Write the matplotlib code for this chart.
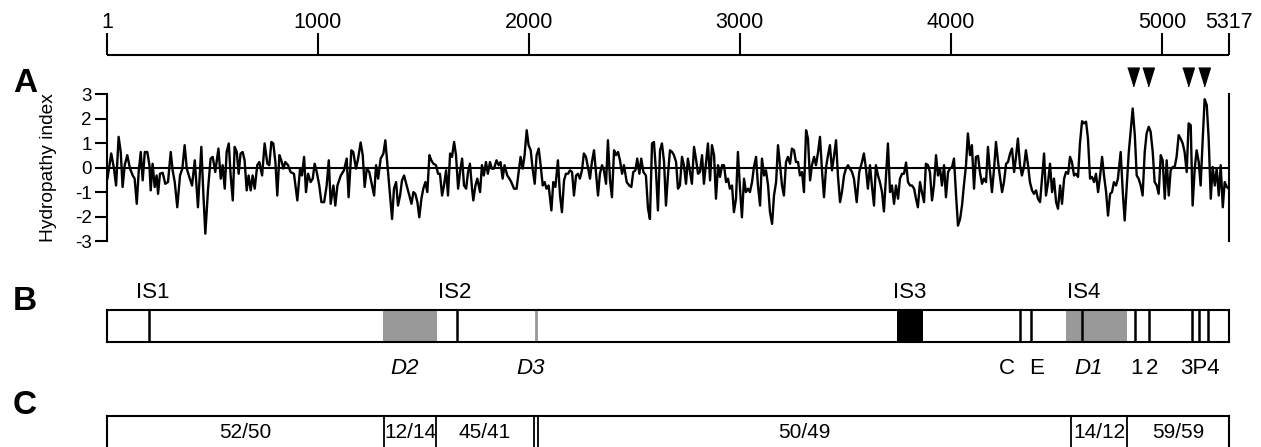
""" Hydropathy profile and domain map of a 5317-residue protein """
import numpy as np
import matplotlib
matplotlib.use("Agg")
from matplotlib import pyplot as plt

plt.rcParams['font.family'] = ['Liberation Sans', 'DejaVu Sans']
plt.rcParams['axes.unicode_minus'] = False

# ---- data ----
length = 5317
ruler_ticks = [1, 1000, 2000, 3000, 4000, 5000, 5317]

# hydropathy trace (residue, index) in three pieces
pos_1 = [3, 21, 34, 44, 56, 66, 75, 85, 97, 110, 123, 132, 142, 151, 161, 170, 180, 192, 202, 208,
         217, 227, 236, 243, 252, 265, 277, 290, 303, 312, 322, 334, 347, 358, 369, 379, 391, 404, 417, 432,
         448, 458, 467, 480, 492, 502, 514, 529, 540, 549, 559, 568, 578, 587, 597, 606, 616, 625, 634, 644,
         653, 663, 672, 682, 691, 701, 713, 723, 736, 748, 761, 770, 780, 789, 799, 808, 818, 827, 837, 846,
         859, 871, 887, 903, 916, 925, 935, 944, 954, 966, 976, 985, 995, 1007, 1017, 1030, 1042, 1052, 1061, 1074,
         1083, 1093, 1109, 1124, 1137, 1146, 1159, 1168, 1181, 1191, 1203, 1213, 1222, 1232, 1244, 1257, 1267, 1276, 1286, 1298,
         1311, 1320, 1330, 1339, 1352, 1361, 1371, 1380, 1390, 1399, 1409, 1421, 1434, 1444, 1453, 1462, 1472, 1481, 1491, 1500,
         1510, 1519, 1529, 1538, 1548, 1560, 1570, 1579, 1589, 1598, 1608, 1617, 1627, 1636, 1646, 1655, 1665, 1674, 1684, 1693,
         1703, 1712, 1721, 1731, 1737, 1747, 1756, 1769]
val_1 = [-0.45, 0.58, -0.04, -0.73, 1.26, 0.64, -0.79, 0.10, 0.51, -0.04, -0.32, -0.45, -1.48, -0.18, 0.64, -0.52, 0.64, 0.64, 0.10, -0.93,
         0.16, -0.79, -0.32, -1.07, -0.25, -0.21, -0.66, -0.59, 0.64, -0.11, -0.59, -1.62, -0.32, -0.04, 0.92, -0.04, -0.38, -0.73, 0.30, -1.62,
         0.85, -1.14, -2.70, -0.86, 0.37, 0.44, -0.18, 0.78, -0.45, 0.10, -0.86, 0.64, 0.99, -0.32, -1.34, 0.85, 0.64, -0.25, 0.58, 0.64,
         0.30, -0.93, -0.32, -0.93, -0.32, -0.86, 0.10, 0.23, -0.32, 0.99, 0.16, 0.10, 1.05, 0.99, 0.23, -1.14, 0.51, 0.30, -0.04, 0.23,
         0.10, -0.18, -0.25, -1.34, -0.04, -0.32, 0.44, -1.00, -0.25, -0.59, -0.45, 0.16, -0.18, -0.73, -1.41, -1.41, -0.73, 0.30, -1.48, -0.73,
         -1.55, -0.73, -0.32, -0.11, 0.37, -1.21, 0.71, 0.64, -0.04, 0.37, 1.03, 0.51, -0.79, -0.04, -0.18, -0.73, -1.14, 0.10, -0.45, 0.37,
         0.58, 1.12, 0.10, -0.86, -2.10, -0.86, -0.59, -1.55, -1.14, -0.52, -0.32, -0.73, -1.14, -1.48, -1.00, -1.07, -1.41, -2.03, -1.27, -0.86,
         -0.59, -1.00, 0.51, 0.30, 0.16, 0.10, -0.25, -0.25, -1.14, -0.73, -0.11, -1.14, 0.58, 0.44, 1.05, 0.51, -0.86, -0.18, 0.37, -0.73,
         -0.86, -0.18, 0.16, -0.86, -1.34, -0.73, -0.45, -1.00]

pos_2 = [1778, 1787, 1797, 1806, 1816, 1825, 1835, 1847, 1857, 1866, 1876, 1885, 1898, 1908, 1917, 1930, 1942, 1952, 1961, 1971,
         1980, 1990, 1999, 2009, 2018, 2028, 2037, 2047, 2056, 2066, 2075, 2084, 2094, 2107, 2116, 2126, 2138, 2148, 2157, 2167,
         2176, 2186, 2195, 2205, 2214, 2224, 2233, 2242, 2252, 2261, 2271, 2280, 2290, 2299, 2309, 2318, 2328, 2337, 2347, 2356,
         2366, 2375, 2385, 2394, 2404, 2413, 2423, 2432, 2442, 2451, 2464, 2476, 2486, 2495, 2505, 2514, 2524, 2533, 2543, 2555,
         2565, 2574, 2584, 2593, 2603, 2612, 2622, 2631, 2641, 2650, 2660, 2669, 2679, 2688, 2698, 2707, 2716, 2726, 2735, 2745,
         2754, 2764, 2773, 2783, 2792, 2802, 2811, 2821, 2830, 2840, 2849, 2859, 2868, 2878, 2887, 2897, 2906, 2916, 2925, 2935,
         2944, 2953, 2963, 2972, 2982, 2991, 3001, 3010, 3020, 3029, 3039, 3048, 3058, 3067, 3077, 3086, 3096, 3105, 3115, 3124,
         3134, 3143, 3153, 3162, 3172, 3181, 3190, 3200, 3209, 3219, 3228, 3238, 3247, 3257, 3266, 3276, 3285, 3295, 3304, 3314,
         3323, 3333, 3342, 3352, 3361, 3371, 3380, 3390, 3399, 3409, 3418, 3427, 3437, 3446, 3456, 3465, 3475, 3484, 3494, 3503,
         3513, 3522, 3532, 3541]
val_2 = [0.10, -0.32, 0.23, -0.25, 0.23, -0.04, -0.04, 0.30, 0.10, 0.23, -0.45, 0.10, -0.32, -0.45, -0.59, -0.86, -0.86, -0.18, 0.44, -0.04,
         0.51, 1.53, 0.92, 0.71, -0.04, -0.66, 0.51, 0.78, 0.10, -0.73, -0.59, -0.86, -0.73, -1.75, -0.59, -0.79, 0.30, -1.14, -1.82, -0.52,
         -0.25, -0.25, -0.11, -0.18, -1.14, -0.32, -0.25, -0.45, -0.11, 0.58, 0.44, 0.03, -0.45, 0.23, 0.71, -0.18, -1.14, -0.25, 0.10, -0.11,
         -0.66, 1.12, -0.52, -1.21, 0.71, 0.51, 0.64, 0.30, -0.25, 0.10, -0.59, -0.73, -0.79, -0.18, -0.11, 0.37, -0.25, 0.37, -0.18, -0.32,
         -1.68, -2.10, 0.99, 1.05, -0.18, -1.75, 0.71, 0.99, 0.23, -1.55, -0.25, 0.71, 0.64, 0.51, 0.23, -0.86, -0.73, 0.44, 0.10, -0.66,
         0.37, -0.18, -0.66, 0.85, 0.37, -0.25, -0.18, 0.51, -0.66, 0.23, 0.99, -0.52, 0.92, 0.51, -1.27, 0.10, -0.38, 0.10, 0.10, -0.59,
         -0.45, -0.86, -0.73, -1.82, -1.27, 0.64, -0.86, -2.03, -0.45, -1.00, -0.86, -1.00, -0.59, 0.03, 0.44, -0.73, -1.55, 0.37, -0.32, -0.11,
         -0.73, -1.82, -2.30, -1.14, -0.59, 0.92, 0.16, -0.73, -1.14, 0.23, 0.44, 0.16, 0.78, 0.71, 0.23, 0.23, -0.32, -0.18, -1.00, 1.53,
         1.19, -0.52, 0.10, 0.44, 0.10, 0.64, 1.26, -0.18, -1.21, 0.03, 0.51, 0.92, -0.11, 0.44, 1.12, -0.32, -1.41, -1.00, -0.32, -0.04,
         0.10, -0.04, -0.18, -0.45]

pos_3 = [3554, 3566, 3579, 3588, 3598, 3607, 3617, 3626, 3636, 3645, 3655, 3664, 3674, 3683, 3693, 3702, 3712, 3721, 3731, 3740,
         3750, 3759, 3769, 3778, 3788, 3797, 3807, 3816, 3826, 3835, 3844, 3854, 3863, 3873, 3882, 3892, 3901, 3911, 3920, 3930,
         3939, 3949, 3958, 3968, 3977, 3987, 3996, 4006, 4015, 4025, 4034, 4044, 4053, 4062, 4072, 4081, 4091, 4100, 4110, 4119,
         4129, 4138, 4148, 4157, 4167, 4176, 4186, 4195, 4205, 4214, 4224, 4233, 4243, 4252, 4262, 4271, 4281, 4290, 4300, 4309,
         4318, 4328, 4337, 4347, 4356, 4366, 4375, 4385, 4394, 4404, 4413, 4423, 4432, 4442, 4451, 4461, 4470, 4480, 4489, 4499,
         4508, 4518, 4527, 4537, 4546, 4556, 4565, 4574, 4584, 4593, 4603, 4612, 4622, 4631, 4641, 4650, 4660, 4669, 4679, 4688,
         4698, 4707, 4717, 4726, 4736, 4745, 4755, 4764, 4773, 4783, 4792, 4805, 4815, 4824, 4834, 4843, 4853, 4862, 4872, 4881,
         4890, 4900, 4909, 4919, 4928, 4938, 4947, 4957, 4966, 4976, 4985, 4995, 5004, 5014, 5023, 5033, 5042, 5052, 5061, 5070,
         5080, 5089, 5099, 5108, 5118, 5127, 5137, 5146, 5156, 5165, 5175, 5184, 5194, 5203, 5213, 5222, 5232, 5241, 5251, 5260,
         5270, 5279, 5289, 5298, 5308, 5317]
val_3 = [-1.41, -0.18, 0.23, 0.58, -0.04, -0.86, 0.10, -0.73, -1.55, 0.10, -0.32, -0.59, -1.00, -1.79, -0.32, 0.99, -1.00, -0.73, -1.48, -0.73,
         -1.27, -0.45, -0.25, -0.25, 0.21, -0.59, -0.73, -0.73, -0.86, -1.27, -1.62, -0.59, -1.00, -1.41, 0.16, 0.10, -0.18, -1.34, -0.73, 0.51,
         -0.32, -0.04, -0.73, 0.10, -1.21, -0.18, -0.04, 0.03, 0.37, -1.14, -2.37, -2.10, -1.55, -0.73, 0.10, 1.40, 0.51, 0.92, -0.86, 0.44,
         0.48, -0.18, -0.66, -0.45, -0.59, 0.85, -0.18, -1.00, -0.04, 1.05, 0.23, -0.38, -1.00, -0.59, 0.16, 0.23, 0.58, 0.78, -0.18, 0.44,
         1.19, 0.10, -0.32, 0.03, 0.71, 0.10, -0.59, -0.93, -1.07, -0.93, -1.27, -1.41, -0.45, 0.58, -1.14, -0.59, 0.16, -1.00, -0.45, -1.41,
         -1.68, -0.73, -1.48, -0.45, -0.18, -0.25, 0.44, 0.23, -0.32, -0.25, -0.38, 0.99, 1.90, 1.81, 1.88, 1.19, -0.45, -0.38, -0.59, -0.25,
         -1.00, -0.38, 0.44, -0.32, -1.00, -1.96, -1.07, -1.00, -0.59, -0.73, -0.45, 0.64, -1.00, -2.16, -0.73, 0.58, 1.53, 2.42, 1.33, -0.32,
         -0.45, -0.73, -1.14, 0.64, 1.40, 1.67, 1.47, 0.64, -0.59, -0.73, -1.07, 0.51, 0.30, -1.27, 0.30, -1.14, -0.11, 0.03, 0.03, 0.44,
         1.33, 1.19, 0.99, 0.64, -0.18, 1.81, 1.74, -1.55, -0.04, 0.71, 0.23, -0.73, 1.19, 2.80, 2.56, 1.19, -1.27, 0.03, -0.73, -0.04,
         -1.14, 0.10, -1.62, -0.59, -0.79, -0.86]

arrow_pos = [4865, 4936, 5126, 5202]

# panel B features
is_labels = ['IS1', 'IS2', 'IS3', 'IS4']
is_label_pos = [217, 1650, 3807, 4631]
b_lines = [201, 1658, 4328, 4379, 4623, 4872, 4941, 5141, 5176, 5220]
gray_spans = [(1307, 1566), (4546, 4834)]
black_spans = [(3746, 3867)]
d3_pos = 2033
below_labels = ['D2', 'D3', 'C', 'E', 'D1', '1', '2', '3P4']
below_pos = [1413, 2009, 4265, 4407, 4655, 4881, 4952, 5181]
below_italic = [True, True, False, False, True, False, False, False]

# panel C segments
c_bounds = [1, 1315, 1560, 2024, 2042, 4568, 4837, 5317]
c_labels = ['52/50', '12/14', '45/41', None, '50/49', '14/12', '59/59']

hydro_pos = pos_1 + pos_2 + pos_3
hydro_val = val_1 + val_2 + val_3

# ---- layout (figure fractions) ----
W, H = 1261, 447
fig = plt.figure(figsize=(W / 100, H / 100), dpi=100)
x0 = 106.8 / W
xw = (1228.7 - 106.8) / W


def box(top_px, bottom_px):
    return [x0, 1 - bottom_px / H, xw, (bottom_px - top_px) / H]


gray = '#999999'

# ruler
ax0 = fig.add_axes(box(33, 55))
ax0.set_xlim(0, length)
ax0.set_ylim(0, 1)
ax0.axis('off')
ax0.hlines(0, ruler_ticks[0], ruler_ticks[-1], color='k', lw=1.5, clip_on=False)
ax0.vlines(ruler_ticks, 0, 1, color='k', lw=1.5, clip_on=False)
for t in ruler_ticks:
    ax0.text(t, 1.24, str(t), ha='center', va='baseline', fontsize=15.5)

# panel A
axA = fig.add_axes(box(94.3, 241))
axA.plot(hydro_pos, hydro_val, color='k', lw=1.7)
axA.axhline(0, color='k', lw=1.5)
axA.plot(arrow_pos, [3.7] * len(arrow_pos), ls='none', color='k', ms=13.5,
         marker=[(-0.62, 1), (0.62, 1), (0, -1)], clip_on=False)
axA.set_xlim(0, length)
axA.set_ylim(-3, 3)
axA.set_yticks([-3, -2, -1, 0, 1, 2, 3])
axA.set_xticks([])
for s in ['top', 'bottom']:
    axA.spines[s].set_visible(False)
for s in ['left', 'right']:
    axA.spines[s].set_linewidth(1.5)
axA.tick_params(axis='y', length=9, width=1.5, labelsize=13.5, pad=2)
fig.text(49 / W, 1 - 167.7 / H, 'Hydropathy index', rotation=90,
         ha='center', va='center', fontsize=13.8)

# panel B
axB = fig.add_axes(box(310, 342))
axB.set_xlim(0, length)
axB.set_ylim(0, 1)
axB.set_xticks([])
axB.set_yticks([])
for s in axB.spines.values():
    s.set_linewidth(1.5)
for a, b in gray_spans:
    axB.axvspan(a, b, color=gray, lw=0)
for a, b in black_spans:
    axB.axvspan(a, b, color='k', lw=0)
axB.axvline(d3_pos, color=gray, lw=2)
for x in b_lines:
    axB.axvline(x, color='k', lw=1.8)
for lab, x in zip(is_labels, is_label_pos):
    axB.text(x, 1.56, lab, ha='center', va='center', fontsize=16)
for lab, x, it in zip(below_labels, below_pos, below_italic):
    axB.text(x, -0.84, lab, ha='center', va='center', fontsize=16,
             style='italic' if it else 'normal')

# panel C
axC = fig.add_axes(box(415.7, 450))
axC.set_xlim(0, length)
axC.set_ylim(0, 1)
axC.set_xticks([])
axC.set_yticks([])
for s in axC.spines.values():
    s.set_linewidth(1.5)
for x in c_bounds[1:-1]:
    axC.axvline(x, color='k', lw=1.3)
for i, lab in enumerate(c_labels):
    if lab:
        axC.text((c_bounds[i] + c_bounds[i + 1]) / 2, 0.52, lab,
                 ha='center', va='center', fontsize=15)

# panel letters
for lab, ypx in [('A', 83), ('B', 301), ('C', 405)]:
    fig.text(25 / W, 1 - ypx / H, lab, ha='center', va='center',
             fontsize=24, fontweight='bold')

fig.savefig('out.png', dpi=100)
